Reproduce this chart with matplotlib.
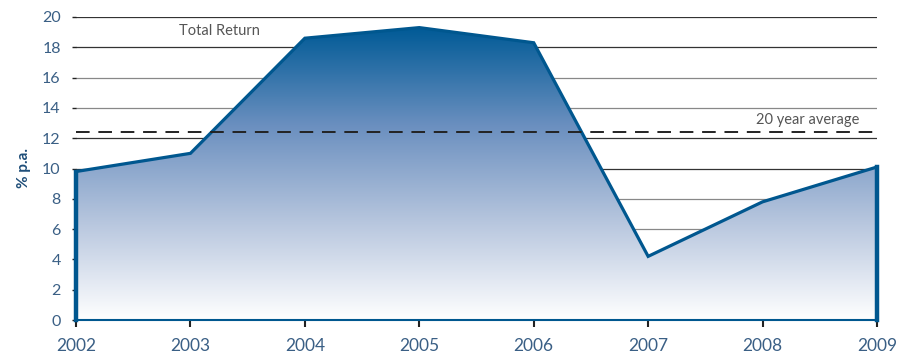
import numpy as np
import matplotlib
matplotlib.use("Agg")
import matplotlib.pyplot as plt
from matplotlib.colors import LinearSegmentedColormap
from matplotlib.patches import Polygon

# data
years = [2002, 2003, 2004, 2005, 2006, 2007, 2008, 2009]
total_return = [9.8, 11.0, 18.6, 19.3, 18.3, 4.2, 7.8, 10.1]
avg_20yr = 12.4
yticks = list(range(0, 21, 2))

line_col = "#00578f"
text_col = "#3a5f85"

plt.rcParams['font.family'] = ['Lato', 'DejaVu Sans']

fig = plt.figure(figsize=(9.01, 3.56), dpi=100)
ax = fig.add_axes([76/901, 36/356, (877-76)/901, (320-17)/356])

# gridlines
for v in yticks[1:]:
    ax.axhline(v, color="#333333" if v not in (14, 16, 6, 8) else "#888888", lw=0.9, zorder=1)

# gradient filled area
xs = [years[0]] + years + [years[-1]]
ys = [0] + total_return + [0]
poly = Polygon(list(zip(xs, ys)), closed=True, facecolor="none", edgecolor="none")
ax.add_patch(poly)
cmap = LinearSegmentedColormap.from_list("g", ["#ffffff", "#b7c6de", "#6a8fbf", "#005a96"])
grad = np.linspace(0, 1, 256).reshape(-1, 1)
im = ax.imshow(grad, cmap=cmap, aspect="auto", origin="lower",
               extent=[years[0], years[-1], 0, max(total_return)], zorder=2)
im.set_clip_path(poly)

# outline
ax.plot(years, total_return, color=line_col, lw=2.3, zorder=3, solid_joinstyle="miter", clip_on=False)
ax.plot([years[0], years[0]], [0, total_return[0]], color=line_col, lw=3.2, zorder=3, clip_on=False)
ax.plot([years[-1], years[-1]], [0, total_return[-1]], color=line_col, lw=3.2, zorder=3, clip_on=False)
ax.plot([years[0], years[-1]], [0, 0], color=line_col, lw=1.5, zorder=3, clip_on=False)

# 20 year average
ax.axhline(avg_20yr, color="#222222", lw=1.4, ls=(0, (7, 4.5)), zorder=4)

ax.text(2002.9, 18.6, "Total Return", fontsize=10.5, color="#555555", ha="left", va="bottom")
ax.text(2008.85, 12.75, "20 year average", fontsize=10.5, color="#555555", ha="right", va="bottom")

ax.set_xlim(years[0], years[-1])
ax.set_ylim(0, 20)
ax.set_xticks(years)
ax.set_xticklabels([str(y) for y in years], fontsize=12.5, color=text_col)
ax.set_yticks(yticks)
ax.set_yticklabels([str(v) for v in yticks], fontsize=11.5, color=text_col)
ax.tick_params(axis="x", length=5, width=1.5, color="#222222", pad=8, direction="out")
ax.tick_params(axis="y", length=3, width=1, color="#222222", pad=8)
for s in ax.spines.values():
    s.set_visible(False)
ax.set_ylabel("% p.a.", fontsize=11, color="#1f4e79", fontweight="bold", labelpad=8)

fig.savefig("out.png", dpi=100)
